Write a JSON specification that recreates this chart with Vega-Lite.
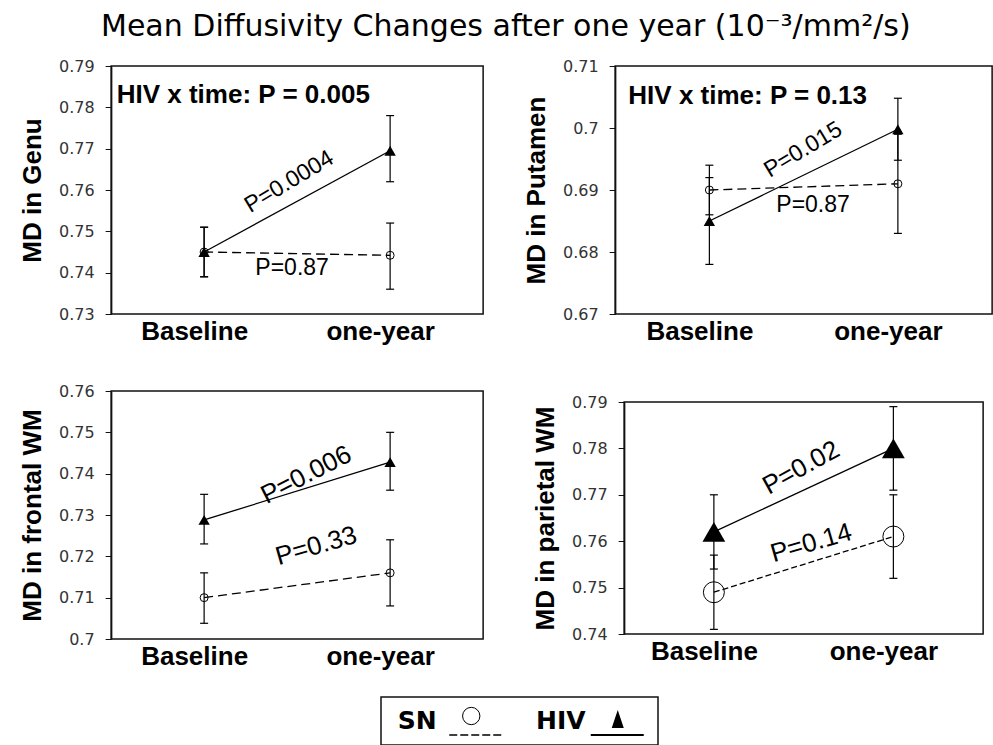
{
  "$schema": "https://vega.github.io/schema/vega-lite/v6.json",
  "padding": {"left": 18, "top": 12, "right": 0, "bottom": 0},
  "title": {"text": "Mean Diffusivity Changes after one year (10⁻³/mm²/s)", "fontSize": 30, "fontWeight": "normal", "font": "DejaVu Sans", "color": "black", "anchor": "middle", "offset": 15},
  "datasets": {
    "md": [
      {"region": "Genu", "group": "SN", "year": 0, "md": 0.745, "lo": 0.739, "hi": 0.751},
      {"region": "Genu", "group": "SN", "year": 1, "md": 0.7442, "lo": 0.736, "hi": 0.752},
      {"region": "Genu", "group": "HIV", "year": 0, "md": 0.745, "lo": 0.739, "hi": 0.751},
      {"region": "Genu", "group": "HIV", "year": 1, "md": 0.7695, "lo": 0.762, "hi": 0.778},
      {"region": "Putamen", "group": "SN", "year": 0, "md": 0.690, "lo": 0.686, "hi": 0.694},
      {"region": "Putamen", "group": "SN", "year": 1, "md": 0.691, "lo": 0.683, "hi": 0.699},
      {"region": "Putamen", "group": "HIV", "year": 0, "md": 0.685, "lo": 0.678, "hi": 0.692},
      {"region": "Putamen", "group": "HIV", "year": 1, "md": 0.6998, "lo": 0.6948, "hi": 0.7048},
      {"region": "Frontal", "group": "SN", "year": 0, "md": 0.710, "lo": 0.7038, "hi": 0.716},
      {"region": "Frontal", "group": "SN", "year": 1, "md": 0.716, "lo": 0.708, "hi": 0.724},
      {"region": "Frontal", "group": "HIV", "year": 0, "md": 0.7288, "lo": 0.723, "hi": 0.735},
      {"region": "Frontal", "group": "HIV", "year": 1, "md": 0.7428, "lo": 0.736, "hi": 0.750},
      {"region": "Parietal", "group": "SN", "year": 0, "md": 0.749, "lo": 0.741, "hi": 0.757},
      {"region": "Parietal", "group": "SN", "year": 1, "md": 0.761, "lo": 0.752, "hi": 0.770},
      {"region": "Parietal", "group": "HIV", "year": 0, "md": 0.762, "lo": 0.754, "hi": 0.770},
      {"region": "Parietal", "group": "HIV", "year": 1, "md": 0.780, "lo": 0.771, "hi": 0.789}
    ]
  },
  "vconcat": [
    {
      "spacing": 38,
      "hconcat": [
        {
          "bounds": "flush",
          "spacing": 77,
          "vconcat": [
            {
              "width": 372, "height": 248,
              "encoding": {
                "x": {"field": "year", "type": "quantitative", "scale": {"domain": [-0.5, 1.5]}, "axis": {"values": [0, 1], "labelExpr": "datum.value == 0 ? 'Baseline' : 'one-year'", "title": null}},
                "y": {"field": "md", "type": "quantitative", "scale": {"domain": [0.73, 0.79], "nice": false, "zero": false}, "axis": {"values": [0.73, 0.74, 0.75, 0.76, 0.77, 0.78, 0.79], "format": ".2~f"}, "title": "MD in Genu"}
              },
              "layer": [
                {
                  "data": {"name": "md"},
                  "transform": [{"filter": "datum.region == 'Genu'"}],
                  "layer": [
                    {"mark": {"type": "rule", "color": "black", "strokeWidth": 1.2}, "encoding": {"y": {"field": "lo", "type": "quantitative", "title": "MD in Genu"}, "y2": {"field": "hi"}}},
                    {"mark": {"type": "tick", "orient": "horizontal", "color": "black", "size": 8, "thickness": 1.2, "opacity": 1}, "encoding": {"y": {"field": "lo", "type": "quantitative", "title": "MD in Genu"}}},
                    {"mark": {"type": "tick", "orient": "horizontal", "color": "black", "size": 8, "thickness": 1.2, "opacity": 1}, "encoding": {"y": {"field": "hi", "type": "quantitative", "title": "MD in Genu"}}},
                    {"transform": [{"filter": "datum.group == 'SN'"}], "mark": {"type": "line", "color": "black", "strokeWidth": 1.3, "strokeDash": [9, 5]}},
                    {"transform": [{"filter": "datum.group == 'HIV'"}], "mark": {"type": "line", "color": "black", "strokeWidth": 1.3}},
                    {"transform": [{"filter": "datum.group == 'SN'"}], "mark": {"type": "point", "shape": "circle", "size": 64, "filled": false, "color": "black", "strokeWidth": 1, "opacity": 1}},
                    {"transform": [{"filter": "datum.group == 'HIV'"}], "mark": {"type": "point", "shape": "triangle-up", "size": 128, "filled": true, "color": "black", "opacity": 1}}
                  ]
                },
                {"data": {"values": [{"label": "HIV x time: P = 0.005", "year": -0.47, "md": 0.783}]}, "mark": {"type": "text", "align": "left", "fontSize": 26, "fontWeight": "bold"}, "encoding": {"text": {"field": "label"}}},
                {"data": {"values": [{"label": "P=0.0004", "year": 0.457, "md": 0.762}]}, "mark": {"type": "text", "angle": -31, "fontSize": 23}, "encoding": {"text": {"field": "label"}}},
                {"data": {"values": [{"label": "P=0.87", "year": 0.473, "md": 0.7411}]}, "mark": {"type": "text", "fontSize": 23}, "encoding": {"text": {"field": "label"}}}
              ]
            },
            {
              "width": 372, "height": 248,
              "encoding": {
                "x": {"field": "year", "type": "quantitative", "scale": {"domain": [-0.5, 1.5]}, "axis": {"values": [0, 1], "labelExpr": "datum.value == 0 ? 'Baseline' : 'one-year'", "title": null}},
                "y": {"field": "md", "type": "quantitative", "scale": {"domain": [0.70, 0.76], "nice": false, "zero": false}, "axis": {"values": [0.70, 0.71, 0.72, 0.73, 0.74, 0.75, 0.76], "format": ".2~f"}, "title": "MD in frontal WM"}
              },
              "layer": [
                {
                  "data": {"name": "md"},
                  "transform": [{"filter": "datum.region == 'Frontal'"}],
                  "layer": [
                    {"mark": {"type": "rule", "color": "black", "strokeWidth": 1.2}, "encoding": {"y": {"field": "lo", "type": "quantitative", "title": "MD in frontal WM"}, "y2": {"field": "hi"}}},
                    {"mark": {"type": "tick", "orient": "horizontal", "color": "black", "size": 8, "thickness": 1.2, "opacity": 1}, "encoding": {"y": {"field": "lo", "type": "quantitative", "title": "MD in frontal WM"}}},
                    {"mark": {"type": "tick", "orient": "horizontal", "color": "black", "size": 8, "thickness": 1.2, "opacity": 1}, "encoding": {"y": {"field": "hi", "type": "quantitative", "title": "MD in frontal WM"}}},
                    {"transform": [{"filter": "datum.group == 'SN'"}], "mark": {"type": "line", "color": "black", "strokeWidth": 1.3, "strokeDash": [9, 5]}},
                    {"transform": [{"filter": "datum.group == 'HIV'"}], "mark": {"type": "line", "color": "black", "strokeWidth": 1.3}},
                    {"transform": [{"filter": "datum.group == 'SN'"}], "mark": {"type": "point", "shape": "circle", "size": 64, "filled": false, "color": "black", "strokeWidth": 1, "opacity": 1}},
                    {"transform": [{"filter": "datum.group == 'HIV'"}], "mark": {"type": "point", "shape": "triangle-up", "size": 128, "filled": true, "color": "black", "opacity": 1}}
                  ]
                },
                {"data": {"values": [{"label": "P=0.006", "year": 0.549, "md": 0.7397}]}, "mark": {"type": "text", "angle": -27, "fontSize": 26}, "encoding": {"text": {"field": "label"}}},
                {"data": {"values": [{"label": "P=0.33", "year": 0.603, "md": 0.7225}]}, "mark": {"type": "text", "angle": -16, "fontSize": 26}, "encoding": {"text": {"field": "label"}}}
              ]
            }
          ]
        },
        {
          "bounds": "flush",
          "spacing": 88,
          "center": true,
          "vconcat": [
            {
              "width": 377, "height": 248,
              "encoding": {
                "x": {"field": "year", "type": "quantitative", "scale": {"domain": [-0.5, 1.5]}, "axis": {"values": [0, 1], "labelExpr": "datum.value == 0 ? 'Baseline' : 'one-year'", "title": null}},
                "y": {"field": "md", "type": "quantitative", "scale": {"domain": [0.67, 0.71], "nice": false, "zero": false}, "axis": {"values": [0.67, 0.68, 0.69, 0.7, 0.71], "format": ".2~f"}, "title": "MD in Putamen"}
              },
              "layer": [
                {
                  "data": {"name": "md"},
                  "transform": [{"filter": "datum.region == 'Putamen'"}],
                  "layer": [
                    {"mark": {"type": "rule", "color": "black", "strokeWidth": 1.2}, "encoding": {"y": {"field": "lo", "type": "quantitative", "title": "MD in Putamen"}, "y2": {"field": "hi"}}},
                    {"mark": {"type": "tick", "orient": "horizontal", "color": "black", "size": 8, "thickness": 1.2, "opacity": 1}, "encoding": {"y": {"field": "lo", "type": "quantitative", "title": "MD in Putamen"}}},
                    {"mark": {"type": "tick", "orient": "horizontal", "color": "black", "size": 8, "thickness": 1.2, "opacity": 1}, "encoding": {"y": {"field": "hi", "type": "quantitative", "title": "MD in Putamen"}}},
                    {"transform": [{"filter": "datum.group == 'SN'"}], "mark": {"type": "line", "color": "black", "strokeWidth": 1.3, "strokeDash": [9, 5]}},
                    {"transform": [{"filter": "datum.group == 'HIV'"}], "mark": {"type": "line", "color": "black", "strokeWidth": 1.3}},
                    {"transform": [{"filter": "datum.group == 'SN'"}], "mark": {"type": "point", "shape": "circle", "size": 64, "filled": false, "color": "black", "strokeWidth": 1, "opacity": 1}},
                    {"transform": [{"filter": "datum.group == 'HIV'"}], "mark": {"type": "point", "shape": "triangle-up", "size": 128, "filled": true, "color": "black", "opacity": 1}}
                  ]
                },
                {"data": {"values": [{"label": "HIV x time: P = 0.13", "year": -0.43, "md": 0.7052}]}, "mark": {"type": "text", "align": "left", "fontSize": 26, "fontWeight": "bold"}, "encoding": {"text": {"field": "label"}}},
                {"data": {"values": [{"label": "P=0.015", "year": 0.497, "md": 0.6965}]}, "mark": {"type": "text", "angle": -31, "fontSize": 23}, "encoding": {"text": {"field": "label"}}},
                {"data": {"values": [{"label": "P=0.87", "year": 0.55, "md": 0.6876}]}, "mark": {"type": "text", "fontSize": 23}, "encoding": {"text": {"field": "label"}}}
              ]
            },
            {
              "width": 359, "height": 232,
              "encoding": {
                "x": {"field": "year", "type": "quantitative", "scale": {"domain": [-0.5, 1.5]}, "axis": {"values": [0, 1], "labelExpr": "datum.value == 0 ? 'Baseline' : 'one-year'", "title": null}},
                "y": {"field": "md", "type": "quantitative", "scale": {"domain": [0.74, 0.79], "nice": false, "zero": false}, "axis": {"values": [0.74, 0.75, 0.76, 0.77, 0.78, 0.79], "format": ".2~f"}, "title": "MD in parietal WM"}
              },
              "layer": [
                {
                  "data": {"name": "md"},
                  "transform": [{"filter": "datum.region == 'Parietal'"}],
                  "layer": [
                    {"mark": {"type": "rule", "color": "black", "strokeWidth": 1.2}, "encoding": {"y": {"field": "lo", "type": "quantitative", "title": "MD in parietal WM"}, "y2": {"field": "hi"}}},
                    {"mark": {"type": "tick", "orient": "horizontal", "color": "black", "size": 8, "thickness": 1.2, "opacity": 1}, "encoding": {"y": {"field": "lo", "type": "quantitative", "title": "MD in parietal WM"}}},
                    {"mark": {"type": "tick", "orient": "horizontal", "color": "black", "size": 8, "thickness": 1.2, "opacity": 1}, "encoding": {"y": {"field": "hi", "type": "quantitative", "title": "MD in parietal WM"}}},
                    {"transform": [{"filter": "datum.group == 'SN'"}], "mark": {"type": "line", "color": "black", "strokeWidth": 1.3, "strokeDash": [6, 3]}},
                    {"transform": [{"filter": "datum.group == 'HIV'"}], "mark": {"type": "line", "color": "black", "strokeWidth": 1.3}},
                    {"transform": [{"filter": "datum.group == 'SN'"}], "mark": {"type": "point", "shape": "circle", "size": 440, "filled": false, "color": "black", "strokeWidth": 1, "opacity": 1}},
                    {"transform": [{"filter": "datum.group == 'HIV'"}], "mark": {"type": "point", "shape": "triangle-up", "size": 520, "filled": true, "color": "black", "opacity": 1}}
                  ]
                },
                {"data": {"values": [{"label": "P=0.02", "year": 0.486, "md": 0.7758}]}, "mark": {"type": "text", "angle": -29, "fontSize": 26}, "encoding": {"text": {"field": "label"}}},
                {"data": {"values": [{"label": "P=0.14", "year": 0.542, "md": 0.7596}]}, "mark": {"type": "text", "angle": -16, "fontSize": 26}, "encoding": {"text": {"field": "label"}}}
              ]
            }
          ]
        }
      ]
    },
    {
      "spacing": 0,
      "hconcat": [
        {
          "width": 277, "height": 48,
          "data": {"values": [{"group": "SN"}, {"group": "HIV"}]},
          "encoding": {"x": {"field": "group", "type": "nominal", "scale": {"domain": ["SN", "HIV"], "paddingInner": 0, "paddingOuter": 0}, "axis": null}},
          "layer": [
            {"transform": [{"filter": "datum.group == 'SN'"}], "mark": {"type": "text", "font": "DejaVu Sans", "fontSize": 25, "fontWeight": "bold", "dx": -33, "dy": 0}, "encoding": {"text": {"field": "group"}}},
            {"transform": [{"filter": "datum.group == 'HIV'"}], "mark": {"type": "text", "font": "DejaVu Sans", "fontSize": 25, "fontWeight": "bold", "dx": -28, "dy": 0}, "encoding": {"text": {"field": "group"}}},
            {"transform": [{"filter": "datum.group == 'SN'"}], "mark": {"type": "point", "shape": "circle", "size": 300, "filled": false, "color": "black", "strokeWidth": 1, "opacity": 1, "xOffset": 21, "yOffset": -5}},
            {"transform": [{"filter": "datum.group == 'HIV'"}], "mark": {"type": "point", "shape": "M0,-1L0.67,1L-0.67,1Z", "size": 324, "filled": true, "color": "black", "opacity": 1, "xOffset": 29, "yOffset": -2}},
            {"transform": [{"filter": "datum.group == 'SN'"}], "mark": {"type": "rule", "color": "black", "strokeWidth": 1.5, "strokeDash": [8, 3], "xOffset": -1, "x2Offset": 51, "yOffset": 14}, "encoding": {"x2": {"field": "group"}}},
            {"transform": [{"filter": "datum.group == 'HIV'"}], "mark": {"type": "rule", "color": "black", "strokeWidth": 2, "xOffset": 2, "x2Offset": 55, "yOffset": 14}, "encoding": {"x2": {"field": "group"}}}
          ]
        },
        {
          "width": 64, "height": 48,
          "view": {"stroke": null, "fill": "white"},
          "data": {"values": [{"group": "SN"}]},
          "mark": {"type": "text", "text": ""}
        }
      ]
    }
  ],
  "spacing": 26,
  "center": true,
  "config": {
    "font": "Liberation Sans",
    "view": {"stroke": "#111", "strokeWidth": 1.5},
    "axis": {"labelFont": "Liberation Sans", "titleFont": "Liberation Sans", "grid": false},
    "axisY": {"labelFont": "DejaVu Sans", "labelFontSize": 16, "labelColor": "#333", "tickSize": 6, "tickColor": "#111", "domainColor": "#111", "domainWidth": 1.5, "labelPadding": 11, "titleFontSize": 26, "titleFontWeight": "bold", "titleColor": "black", "titlePadding": 13},
    "axisX": {"labelFontSize": 26, "labelFontWeight": "bold", "labelColor": "black", "ticks": false, "domain": false, "labelPadding": 4, "labelOffset": -10},
    "text": {"font": "Liberation Sans", "color": "black"}
  }
}
